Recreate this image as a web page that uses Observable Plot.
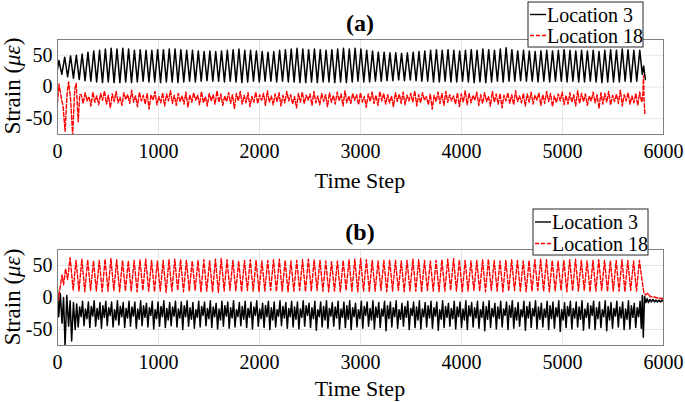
<!DOCTYPE html>
<html><head><meta charset="utf-8">
<script src="https://cdn.jsdelivr.net/npm/d3@7"></script>
<script src="https://cdn.jsdelivr.net/npm/@observablehq/plot@0.6"></script>
<style>
body{margin:0;background:#fff;}
#chart{width:685px;height:402px;}
#chart svg{display:block;}
</style></head><body><div id="chart"></div>
<script>
// ---- axes / labels ----
const xTicks = [0,1000,2000,3000,4000,5000,6000];
const yTicks = [-50,0,50];
const seriesNames = ["Location 3","Location 18"];
const panelTitles = ["(a)","(b)"];
const xLabel = "Time Step";

// ---- panel (a), Location 3 (black) ----
const a3Start = [[0,28]];
const a3T0 = 14, a3Step = 28.75;
const a3Peaks = [42,47,49,50,52,55, 57,58,60,61,60,61,60, 58,59,58,58,59, 59,60,60,59,58,
  58,57,56,57,56,57,58, 59,60,58,58,57, 56,55,56,58,59, 60,61,60,59,60,59, 58,59,60,61,60,
  61,60,58,57, 55,55,54,54,53,54,55,56, 57,58,59,58,59, 58,57,58,59,58, 60,59,58,60,62,59,
  57,58,57,56,57, 58,57,58,59,58, 57,58,57,58,56, 58,59,58,60,59, 58];
const a3Troughs = [20,16,14,12,10,9,
  8,7,8,7,7,8,7,8,9,8,8,7,8,8,7,8,9,8,9,10,9,9,8,9,8,7,8,9,8,9,
  9,8,9,8,8,7,7,8,7,8,8,7,8,7,8,9,8,8,9,9,
  10,10,11,10,11,10,9,9,8,8,9,8,8,9,8,7,8,7,8,9,
  8,9,9,10,9,9,8,9,8,9,9,8,9,8,8,9,8,7,8,8,
  8,9,8,9];
const a3End = [[5765,58],[5790,20],[5803,33],[5820,12]];

// ---- panel (a), Location 18 (red dashed) ----
const a18Start = [[0,-25],[15,5],[35,-15],[55,-30],[75,-70],[95,-10],[110,8],[130,-20],[150,-76],[170,-5],[185,6],[205,-55],[220,-12]];
const a18T0 = 235, a18Step = 19.2;
const a18Values = [
  -12,-26,-9,-22,-15,-30,-8,-24,-14,-28,
  -10,-21,-6,-27,-13,-33,-11,-23,-7,-25,
  -16,-29,-9,-20,-12,-26,-5,-24,-14,-31,
  -8,-22,-13,-27,-10,-35,-12,-21,-7,-28,
  -15,-25,-9,-30,-11,-22,-6,-26,-13,-29,
  -10,-23,-14,-27,-8,-32,-12,-24,-9,-21,
  -13,-28,-7,-25,-15,-30,-10,-22,-12,-27,
  -6,-24,-11,-29,-14,-23,-9,-26,-12,-34,
  -10,-22,-7,-27,-13,-25,-9,-31,-15,-24,
  -8,-26,-12,-21,-10,-29,-6,-24,-14,-28,
  -11,-23,-9,-30,-13,-25,-7,-22,-12,-27,
  -15,-33,-10,-24,-8,-26,-13,-21,-11,-29,
  -7,-25,-14,-28,-10,-23,-12,-31,-9,-24,
  -13,-27,-8,-22,-11,-30,-6,-25,-14,-26,
  -10,-21,-12,-28,-9,-24,-15,-32,-11,-23,
  -8,-26,-13,-29,-7,-22,-10,-27,-12,-25,
  -14,-31,-9,-23,-11,-26,-8,-28,-13,-22,
  -10,-24,-6,-30,-12,-25,-9,-21,-15,-28,
  -11,-35,-13,-23,-8,-26,-10,-29,-7,-24,
  -12,-22,-14,-27,-9,-31,-11,-24,-6,-28,
  -10,-25,-13,-21,-8,-29,-12,-26,-9,-23,
  -15,-30,-7,-24,-11,-27,-10,-33,-13,-22,
  -9,-26,-12,-28,-6,-23,-14,-25,-10,-30,
  -11,-24,-8,-27,-13,-21,-9,-29,-12,-26,
  -7,-23,-10,-31,-14,-25,-11,-22,-8,-28,
  -13,-27,-9,-24,-12,-30,-6,-26,-10,-23,
  -11,-29,-14,-22,-8,-25,-12,-34,-9,-27,
  -10,-24,-7,-28,-13,-23,-11,-26,-5,-30,
  -12,-22,-9,-27,-14,-25,-10,-29,-8,-24];
const a18End = [[5795,-15],[5802,18],[5808,-20],[5815,-42]];

// ---- panel (b), Location 3 (black) ----
const b3Start = [[0,12],[12,-30],[28,6],[45,-40],[60,0],[75,-76],[92,3],[110,-45],[125,-5],[140,-68],[158,-8],[175,-50],[190,-10]];
const b3T0 = 205, b3Step = 14.375;
const b3Values = [
  -46,-15,-30,-6, -44,-18,-33,-7, -47,-14,-29,-5, -45,-17,-34,-8, -48,-13,-31,-6,
  -44,-16,-28,-7, -46,-19,-35,-5, -43,-14,-30,-8, -47,-17,-32,-6, -45,-15,-29,-7,
  -48,-18,-34,-5, -44,-13,-31,-9, -46,-16,-28,-6, -49,-19,-33,-7, -45,-14,-30,-5,
  -47,-17,-35,-8, -44,-15,-29,-6, -46,-18,-32,-7, -50,-13,-30,-5, -45,-16,-34,-8,
  -48,-19,-31,-6, -46,-14,-28,-7, -44,-17,-33,-5, -47,-15,-30,-9, -49,-18,-35,-6,
  -45,-13,-29,-7, -48,-16,-32,-5, -46,-19,-30,-8, -44,-14,-34,-6, -47,-17,-31,-7,
  -49,-15,-28,-5, -45,-18,-33,-9, -47,-13,-30,-6, -50,-16,-35,-7, -46,-19,-29,-5,
  -44,-14,-32,-8, -48,-17,-30,-6, -46,-15,-34,-7, -49,-18,-31,-5, -45,-13,-28,-9,
  -47,-16,-33,-6, -51,-19,-30,-7, -46,-14,-35,-5, -48,-17,-29,-8, -45,-15,-32,-6,
  -49,-18,-31,-7, -47,-13,-34,-5, -50,-16,-30,-9, -46,-19,-33,-6, -48,-14,-28,-7,
  -45,-17,-35,-5, -49,-15,-31,-8, -47,-18,-29,-6, -52,-13,-33,-7, -46,-16,-30,-5,
  -48,-19,-34,-9, -45,-14,-31,-6, -50,-17,-28,-7, -47,-15,-35,-5, -49,-18,-30,-8,
  -46,-13,-32,-6, -48,-16,-29,-7, -51,-19,-34,-5, -47,-14,-31,-9, -45,-17,-33,-6,
  -49,-15,-30,-7, -47,-18,-35,-5, -50,-13,-29,-8, -46,-16,-32,-6, -48,-19,-31,-7,
  -52,-14,-34,-5, -47,-17,-30,-9, -49,-15,-33,-6, -46,-18,-28,-7, -50,-13,-31,-5,
  -48,-16,-35,-8, -45,-19,-30,-6, -51,-14,-32,-7, -47,-17,-29,-5, -49,-15,-34,-9,
  -46,-18,-31,-6, -50,-13,-33,-7, -48,-16,-30,-5, -53,-19,-35,-8, -47,-14,-29,-6,
  -49,-17,-32,-7, -46,-15,-34,-5, -51,-18,-31,-9, -48,-13,-28,-6, -50,-16,-33,-7,
  -47,-19,-30,-5, -52,-14,-35,-8, -48,-17,-29,-6, -46,-15,-32,-7, -50,-18,-34,-5,
  -49,-13,-31,-9, -47,-16,-30,-6];
const b3End = [[5780,-48],[5790,3],[5800,-62],[5812,2],[5825,-8],[5838,-2],[5850,-8],[5865,-3],[5880,-7],[5895,-3],[5910,-7],[5925,-4],[5940,-7],[5955,-4],[5970,-7],[5985,-4],[6000,-6]];

// ---- panel (b), Location 18 (red dashed) ----
const b18Start = [[0,0],[10,-3],[25,15],[45,35],[60,20],[80,45],[100,28],[125,62]];
const b18T0 = 155, b18Step = 28.75;
const b18Troughs = [12,10,9,11,10,9,10,11,9,10, 10,9,11,10,9,10,8,10,11,9, 10,11,9,10,9,8,10,11,10,9,
  11,10,9,10,11,9,10,9,10,11, 9,10,11,10,9,10,9,11,10,9, 10,9,10,11,9,10,11,9,10,10,
  9,11,10,9,10,11,10,9,10,11, 10,9,11,10,9,10,11,10,9,10, 11,10,9,10,11,9,10,10,11,9, 10,11,9,10,10,9,11,10];
const b18Peaks = [58,60,59,57,58,60,61,59,58,57, 58,59,60,58,57,58,59,60,59,58, 57,58,59,58,60,61,59,58,57,58,
  59,58,57,58,59,60,58,57,58,59, 60,59,58,57,56,57,58,59,60,61, 59,58,57,58,59,58,57,58,60,59,
  58,57,58,59,60,61,59,58,57,58, 59,60,58,57,58,59,58,57,58,59, 60,59,58,57,58,59,60,58,57,58, 59,58,57,58,59,58,57,58];
const b18End = [[5785,30],[5805,8],[5825,4],[5845,7],[5865,2],[5900,1],[5950,-1],[6000,-2]];

// ---- assemble series ----
const pairs = arr => arr.map(([t,v]) => ({t, v}));
function alternating(t0, step, first, second) {
  const out = [];
  for (let i = 0; i < Math.max(first.length, second.length); i++) {
    if (i < first.length) out.push({t: t0 + 2*i*step, v: first[i]});
    if (i < second.length) out.push({t: t0 + (2*i+1)*step, v: second[i]});
  }
  return out;
}
const sampled = (t0, step, vals) => vals.map((v,i) => ({t: t0 + i*step, v}));

const panelA = [
  [...pairs(a3Start), ...alternating(a3T0, a3Step, a3Peaks, a3Troughs), ...pairs(a3End)],
  [...pairs(a18Start), ...sampled(a18T0, a18Step, a18Values), ...pairs(a18End)]
];
const panelB = [
  [...pairs(b3Start), ...sampled(b3T0, b3Step, b3Values), ...pairs(b3End)],
  [...pairs(b18Start), ...alternating(b18T0, b18Step, b18Troughs, b18Peaks), ...pairs(b18End)]
];

const FONT = "'Liberation Serif','Times New Roman',serif";
const W = 685, H = 201, ML = 57, MR = 22;
const fmt = d => String(d);

function panel(lines, title, cfg) {
  const svg = Plot.plot({
    width: W, height: H,
    marginLeft: ML, marginRight: MR, marginTop: cfg.mt, marginBottom: cfg.mb,
    style: {fontFamily: FONT, fontSize: "20px", background: "white", color: "#000"},
    x: {domain: [0, 6000]},
    y: {domain: [-75, 75]},
    marks: [
      Plot.gridX(xTicks, {stroke: "#000", strokeOpacity: 0.1}),
      Plot.gridY(yTicks, {stroke: "#000", strokeOpacity: 0.1}),
      Plot.line(lines[0], {x: "t", y: "v", stroke: "#000", strokeWidth: 1.5, clip: true}),
      Plot.line(lines[1], {x: "t", y: "v", stroke: "#ff0000", strokeWidth: 1.4, strokeDasharray: "4,2", clip: true}),
      Plot.frame({stroke: "#808080"}),
      Plot.axisX({ticks: xTicks, tickSize: 0, tickPadding: 9, tickFormat: fmt, label: null}),
      Plot.axisY({ticks: yTicks, tickSize: 0, tickPadding: 5, tickFormat: fmt, label: null})
    ]
  });
  const s = d3.select(svg);
  const cx = ML + (W - ML - MR) / 2;
  s.append("text").attr("x", cx).attr("y", cfg.titleY)
    .attr("text-anchor", "middle").attr("dominant-baseline", "central")
    .attr("font-family", FONT).attr("font-size", 24).attr("font-weight", "bold").text(title);
  s.append("text").attr("x", cx).attr("y", cfg.xlabY)
    .attr("text-anchor", "middle").attr("dominant-baseline", "central")
    .attr("font-family", FONT).attr("font-size", 22).text(xLabel);
  const yl = s.append("text").attr("transform", `translate(12,${cfg.ylabY}) rotate(-90)`)
    .attr("text-anchor", "middle").attr("dominant-baseline", "central")
    .attr("font-family", FONT).attr("font-size", 23);
  yl.append("tspan").text("Strain (");
  yl.append("tspan").attr("font-style", "italic").text("με");
  yl.append("tspan").text(")");
  // legend
  const g = s.append("g").attr("transform", `translate(${cfg.lx},${cfg.ly})`);
  g.append("rect").attr("x", 0).attr("y", 0).attr("width", 115).attr("height", cfg.lh)
    .attr("fill", "white").attr("stroke", "#262626").attr("stroke-width", 1);
  const rows = [cfg.r1, cfg.r2];
  seriesNames.forEach((name, i) => {
    g.append("line").attr("x1", 2).attr("x2", 18).attr("y1", rows[i]).attr("y2", rows[i])
      .attr("stroke", i ? "#ff0000" : "#000").attr("stroke-width", 1.4)
      .attr("stroke-dasharray", i ? "4,2" : null);
    g.append("text").attr("x", 19).attr("y", rows[i]).attr("dominant-baseline", "central")
      .attr("text-anchor", "start")
      .attr("font-family", FONT).attr("font-size", 20).text(name);
  });
  return svg;
}

const chart = document.getElementById("chart");
chart.append(panel(panelA, panelTitles[0], {mt: 39, mb: 67, titleY: 22.5, xlabY: 180, ylabY: 86, lx: 528, ly: 2, lh: 45, r1: 12.5, r2: 33.5}));
chart.append(panel(panelB, panelTitles[1], {mt: 48, mb: 57, titleY: 31, xlabY: 187, ylabY: 96, lx: 533, ly: 8, lh: 46, r1: 13, r2: 34.5}));
</script></body></html>
